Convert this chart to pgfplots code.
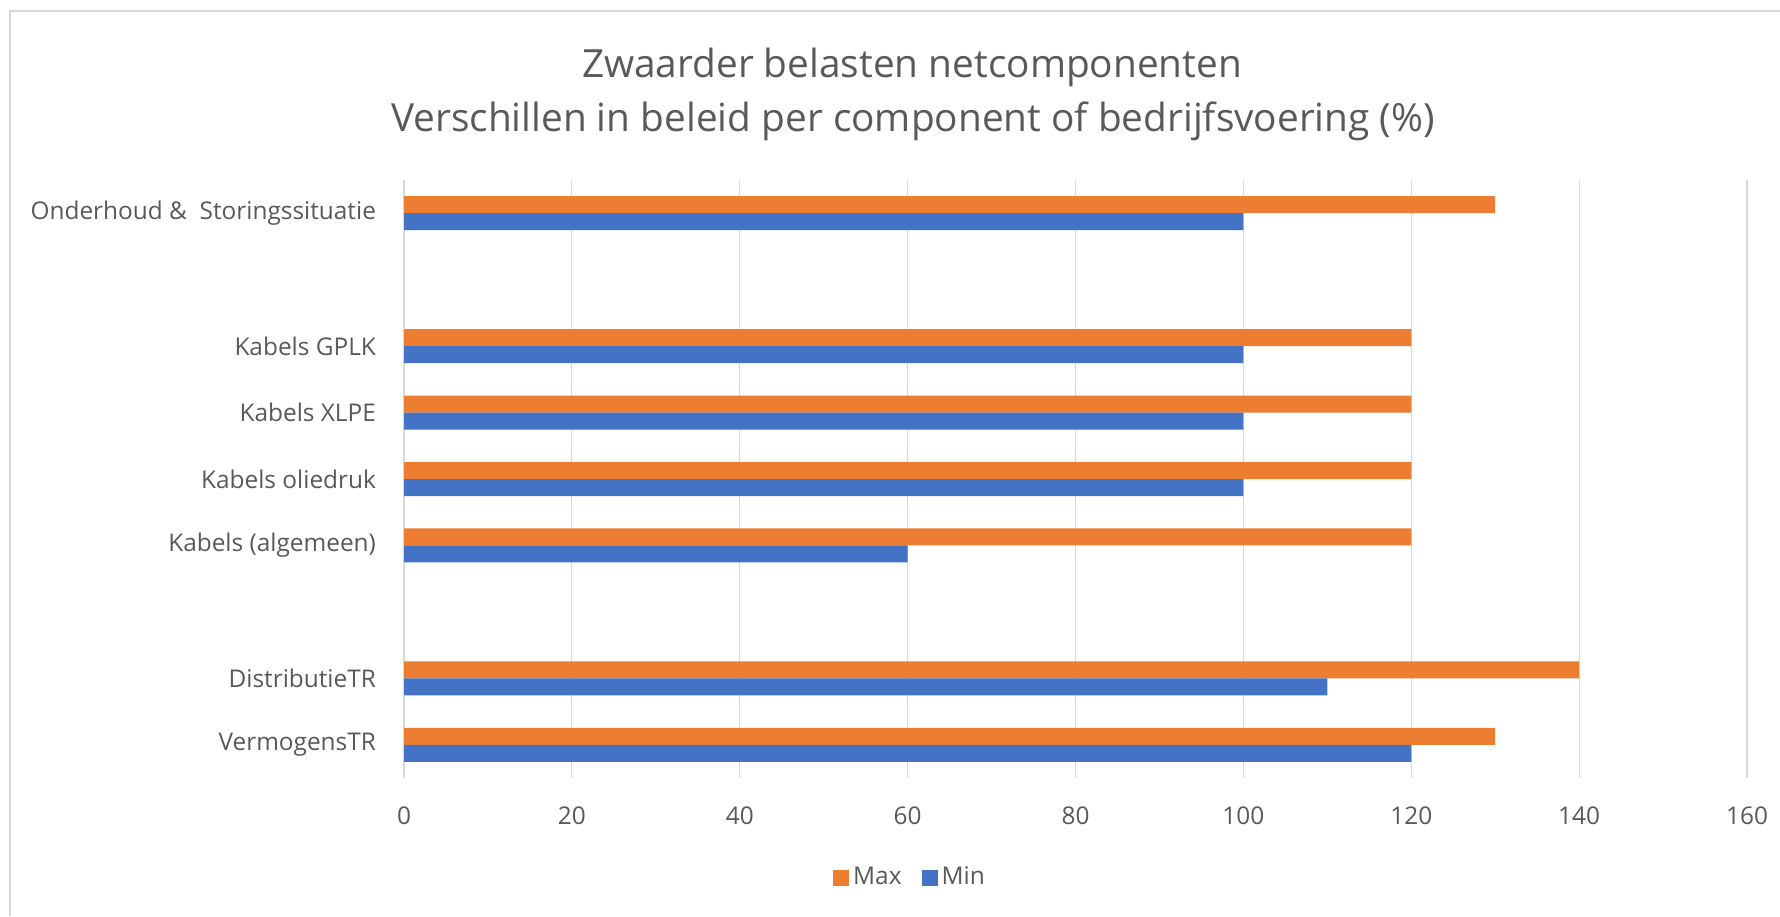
\documentclass[border=0pt]{standalone}
\usepackage{pgfplots}
\pgfplotsset{compat=1.18}
\usepackage{fontspec}
\setmainfont{Open Sans}
\definecolor{cOrange}{HTML}{ED7D31}
\definecolor{cBlue}{HTML}{4472C4}
\definecolor{cGrid}{HTML}{D9D9D9}
\definecolor{cText}{HTML}{595959}
\definecolor{cFrame}{HTML}{D9D9D9}
\begin{document}
\begin{tikzpicture}
\path[use as bounding box] (0,0) rectangle (890pt,458pt);
\draw[cFrame, line width=1pt] (4.75pt,0) -- (4.75pt,452.5pt) -- (890pt,452.5pt);
\node[cText, font=\fontsize{19.4}{23}\selectfont, anchor=base] at (456pt,419pt) {Zwaarder belasten netcomponenten};
\node[cText, font=\fontsize{19.4}{23}\selectfont, anchor=base] at (456.5pt,392pt) {Verschillen in beleid per component of bedrijfsvoering (\%)};
\begin{axis}[
  at={(202pt,69pt)}, anchor=south west,
  scale only axis,
  width=671.5pt, height=299pt,
  xmin=0, xmax=160,
  ymin=-0.5, ymax=8.5,
  xtick={0,20,...,160},
  ytick={0,1,3,4,5,6,8},
  yticklabels={VermogensTR,DistributieTR,Kabels (algemeen),Kabels oliedruk,Kabels XLPE,Kabels GPLK,{Onderhoud \&~ Storingssituatie}},
  axis line style={draw=none},
  major tick length=0pt,
  xmajorgrids,
  grid style={cGrid, line width=0.6pt},
  tick label style={cText, font=\fontsize{12.2}{14}\selectfont},
  /pgf/number format/assume math mode=true,
  yticklabel style={xshift=-10.5pt},
  xticklabel style={yshift=-11pt},
  legend style={at={(0.3775,-0.1656)}, anchor=center, draw=none, fill=none,
    legend columns=2, font=\fontsize{12.2}{14}\selectfont, text=cText,
    /tikz/every even column/.append style={column sep=8pt}},
  legend image code/.code={\fill[#1] (0pt,-4.5pt) rectangle (8pt,3.5pt);},
  legend cell align=left,
  clip=false,
]
\addplot[xbar, bar width=8.5pt, bar shift=4.25pt, fill=cOrange, draw=none]
  coordinates {(130,0) (140,1) (120,3) (120,4) (120,5) (120,6) (130,8)};
\addlegendentry{Max}
\addplot[xbar, bar width=8.5pt, bar shift=-4.25pt, fill=cBlue, draw=none]
  coordinates {(120,0) (110,1) (60,3) (100,4) (100,5) (100,6) (100,8)};
\addlegendentry{Min}
\end{axis}
\end{tikzpicture}
\end{document}
